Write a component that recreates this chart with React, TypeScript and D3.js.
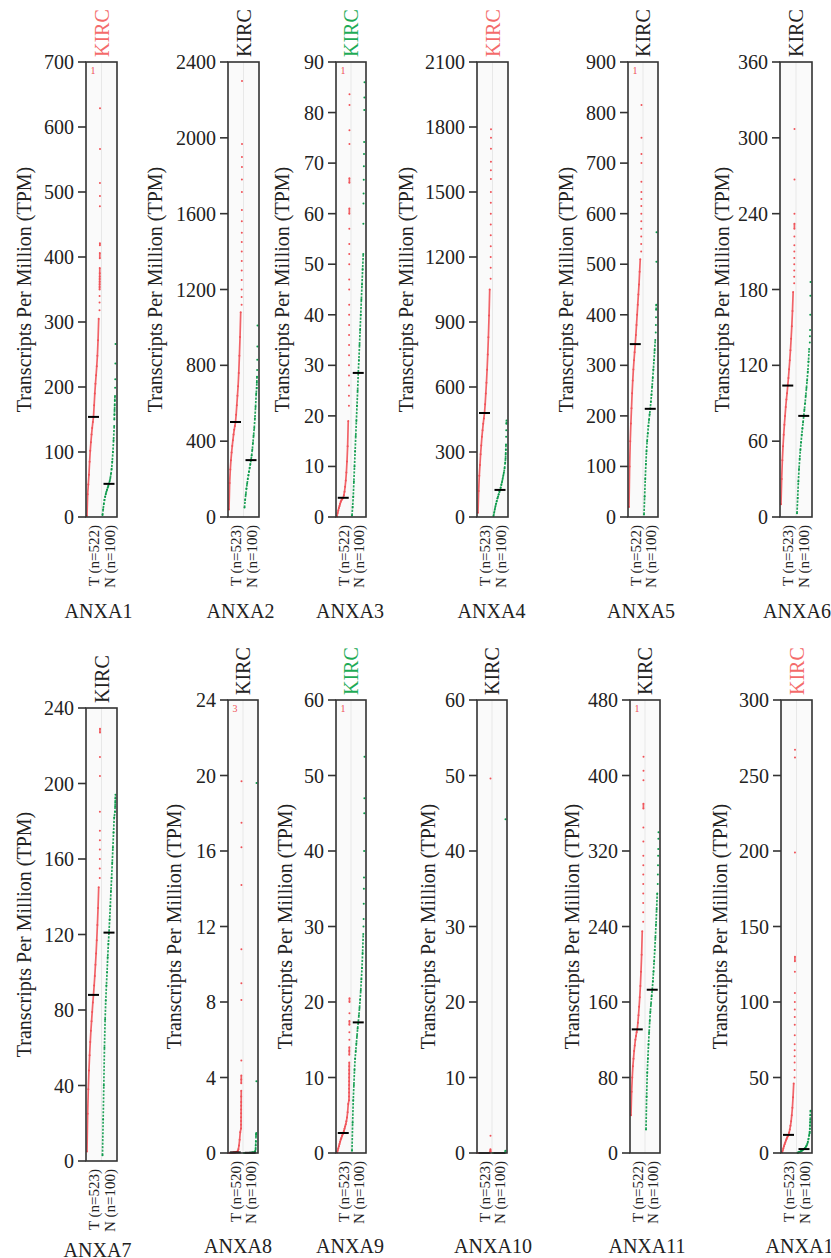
import React from "react";
import * as d3 from "d3";

// gene panels, left to right, top to bottom
const genes = ["ANXA1", "ANXA2", "ANXA3", "ANXA4", "ANXA5", "ANXA6", "ANXA7", "ANXA8", "ANXA9", "ANXA10", "ANXA11", "ANXA13"];
const yMax = [700, 2400, 90, 2100, 900, 360, 240, 24, 60, 60, 480, 300];
const tickStep = [100, 400, 10, 300, 100, 60, 40, 4, 10, 10, 80, 50];
const nTumor = [522, 523, 522, 523, 522, 523, 523, 520, 523, 523, 522, 523];
const nNormal = [100, 100, 100, 100, 100, 100, 100, 100, 100, 100, 100, 100];
// significance colour of the KIRC header
const kircSig = ["up", "none", "down", "up", "none", "none", "none", "none", "down", "none", "none", "up"];
const tumorMedian = [154, 501, 3.8, 480, 342, 104, 88, 0.03, 2.65, 0, 131, 12];
const normalMedian = [51, 300, 28.5, 125, 214, 80, 121, 0.01, 17.3, 0, 173, 2.6];
// points beyond the axis maximum
const tumorOver = [1, 0, 1, 0, 1, 0, 0, 3, 1, 0, 1, 0];

// sorted TPM at percentiles 0, 5, ..., 90
const tumorBody = [
  [2, 35, 50, 65, 85, 102, 115, 127, 137, 146, 154, 172, 190, 205, 218, 232, 248, 272, 305],
  [40, 180, 250, 300, 340, 375, 405, 435, 460, 480, 500, 540, 590, 640, 690, 760, 850, 950, 1080],
  [0.1, 0.8, 1.3, 1.8, 2.2, 2.6, 3.0, 3.3, 3.5, 3.65, 3.8, 4.3, 5.0, 6.0, 7.2, 8.8, 11, 14, 19],
  [20, 120, 190, 240, 290, 330, 370, 400, 430, 455, 480, 520, 570, 620, 680, 750, 830, 930, 1050],
  [20, 100, 150, 185, 215, 245, 270, 292, 310, 326, 342, 360, 380, 400, 420, 440, 460, 485, 510],
  [10, 30, 45, 56, 65, 73, 80, 87, 93, 98, 104, 110, 117, 124, 132, 141, 151, 163, 178],
  [5, 25, 38, 48, 56, 63, 69, 74, 79, 84, 88, 93, 98, 104, 110, 117, 125, 134, 145],
  [0, 0, 0, 0, 0.01, 0.01, 0.01, 0.02, 0.02, 0.03, 0.03, 0.04, 0.05, 0.06, 0.1, 0.2, 0.4, 0.7, 1.1],
  [0.05, 0.3, 0.6, 0.9, 1.2, 1.5, 1.8, 2.0, 2.25, 2.45, 2.65, 2.9, 3.2, 3.5, 3.8, 4.2, 4.7, 5.4, 6.5],
  [0, 0, 0, 0, 0, 0, 0, 0, 0, 0, 0, 0, 0, 0, 0, 0, 0.01, 0.01, 0.02],
  [40, 65, 80, 92, 100, 108, 114, 120, 124, 128, 131, 138, 146, 155, 165, 177, 192, 210, 235],
  [0.5, 1.5, 3, 4.5, 5.8, 7, 8.2, 9.3, 10.3, 11.2, 12, 13.5, 15.5, 18, 21, 25, 30, 37, 46],
];
// highest values, ascending (last ranks)
const tumorTail = [
  [318, 330, 340, 350, 354, 358, 362, 366, 370, 375, 383, 398, 406, 418, 421, 478, 494, 514, 566, 629],
  [1120, 1160, 1200, 1250, 1300, 1350, 1400, 1450, 1500, 1560, 1620, 1714, 1780, 1846, 1899, 1967, 2300],
  [22, 24, 26, 28, 30, 32, 34, 36, 38, 40, 42, 45, 47, 50, 52, 54, 57, 60, 61, 66.1, 67, 73.8, 76.5, 81.5, 83.6],
  [1100, 1150, 1200, 1250, 1300, 1350, 1400, 1450, 1500, 1560, 1600, 1640, 1700, 1750, 1790],
  [525, 540, 555, 570, 585, 600, 615, 629, 643, 663, 700, 718, 750, 815],
  [185, 190, 195, 200, 205, 210, 215, 222, 228, 232, 240, 267, 307],
  [150, 155, 160, 165, 170, 175, 185, 204, 214, 227, 229],
  [1.3, 1.5, 1.7, 1.9, 2.1, 2.3, 2.5, 2.7, 3.0, 3.3, 3.7, 3.9, 4.1, 4.9, 8.1, 9.0, 10.8, 14.2, 16.2, 17.5, 19.7],
  [7, 7.5, 8, 8.5, 9, 9.5, 10, 10.5, 11, 11.5, 12, 13, 13.5, 14, 15, 16, 17, 17.5, 18.5, 20, 20.5],
  [0.05, 0.1, 0.2, 0.3, 0.5, 2.3, 49.6],
  [245, 255, 265, 275, 285, 295, 305, 315, 330, 345, 365, 370, 395, 405, 420],
  [50, 55, 60, 64, 68, 72, 78, 85, 90, 95, 100, 106, 120, 127, 130, 199, 262, 267],
];
const normalBody = [
  [3, 12, 20, 26, 31, 35, 39, 42, 45, 48, 51, 55, 60, 66, 74, 85, 100, 118, 140],
  [50, 90, 120, 150, 175, 200, 220, 240, 260, 280, 300, 325, 355, 390, 430, 470, 520, 580, 650],
  [0.3, 2, 4, 7, 10, 13, 16, 19, 22, 25, 28.5, 31, 34, 37, 40, 43, 46, 49, 52],
  [5, 20, 35, 50, 62, 74, 85, 95, 105, 115, 125, 135, 148, 160, 175, 190, 205, 225, 250],
  [5, 40, 75, 105, 130, 150, 165, 180, 192, 203, 214, 228, 242, 258, 275, 292, 310, 330, 350],
  [3, 15, 28, 38, 46, 53, 59, 65, 70, 75, 80, 85, 90, 96, 102, 108, 115, 123, 133],
  [3, 22, 40, 60, 75, 85, 93, 100, 108, 115, 121, 128, 135, 143, 150, 158, 166, 174, 182],
  [0, 0, 0, 0, 0, 0, 0, 0, 0, 0.01, 0.01, 0.01, 0.01, 0.02, 0.02, 0.02, 0.03, 0.05, 0.1],
  [0.3, 4, 7, 9, 11, 12.5, 13.5, 14.5, 15.5, 16.5, 17.3, 18.2, 19.2, 20.3, 21.5, 23, 24.5, 26.5, 29],
  [0, 0, 0, 0, 0, 0, 0, 0, 0, 0, 0, 0, 0, 0, 0, 0, 0, 0, 0.01],
  [25, 60, 85, 100, 115, 128, 140, 150, 158, 166, 173, 182, 192, 203, 215, 228, 242, 258, 275],
  [0.1, 0.3, 0.5, 0.7, 0.9, 1.1, 1.4, 1.7, 2.0, 2.3, 2.6, 3.0, 3.5, 4.1, 5, 6, 7.5, 9.5, 12],
];
const normalTail = [
  [150, 158, 165, 172, 180, 186, 199, 212, 236, 266],
  [680, 710, 740, 775, 830, 900, 1010],
  [58, 62, 64, 66.7, 69.4, 71.8, 74.2, 80.5, 83, 86],
  [270, 290, 310, 335, 370, 400, 430, 445],
  [365, 380, 395, 410, 420, 505, 563],
  [138, 143, 148, 160, 175, 186],
  [185, 188, 190, 192, 194],
  [0.2, 0.4, 0.6, 0.9, 1.0, 1.06, 3.8, 19.6],
  [30, 31, 33, 35, 36.5, 40, 45, 47, 52.5],
  [0.05, 0.1, 0.3, 44.2],
  [285, 295, 305, 315, 322, 333, 340],
  [13, 14, 16, 18, 20, 22, 25, 28],
];

// layout of each panel (pixels)
const axisX = [86, 228, 336, 477, 628, 780, 86, 228, 336, 477, 630, 781];
const plotW = [31, 31, 30, 31, 30, 32, 31, 30, 30, 30, 30, 31];
const plotTop = [62, 62, 62, 62, 62, 62, 708, 700, 700, 700, 700, 700];
const plotBottom = [517, 517, 517, 517, 517, 517, 1161, 1153, 1153, 1153, 1153, 1153];
const yLabelX = [24, 155, 282, 406, 566, 722, 24, 174, 285, 428, 572, 720];
const geneDx = [-3, -3, -1, -1, -2, 1, -4, -5, -1, 1, 2, 8];
const geneY = [618, 618, 618, 618, 618, 618, 1257, 1253, 1253, 1253, 1253, 1253];

const RED = "#f05258";
const GREEN = "#0c9a4a";
const FONT = "'Liberation Serif', 'Times New Roman', serif";
const sigColor = { up: "#f46b6b", down: "#1eab56", none: "#222" };

type Pt = { r: number; v: number; body: boolean };

const Series = ({ body, tail, n, x0, x1, y, color, median, dash }) => {
  const x = d3.scaleLinear().domain([0, n - 1]).range([x0, x1]);
  const pts: Pt[] = [
    ...body.map((v, i) => ({ r: i * 0.05 * (n - 1), v, body: true })),
    ...tail.map((v, j) => ({ r: n - tail.length + j, v, body: false })),
  ];
  // join neighbouring points into a line where they are dense
  const segs: Pt[][] = [];
  let cur: Pt[] = [pts[0]];
  for (let i = 1; i < pts.length; i++) {
    const a = pts[i - 1];
    const b = pts[i];
    const gap = Math.abs(y(b.v) - y(a.v));
    if ((a.body && b.body) || gap < 6) cur.push(b);
    else {
      segs.push(cur);
      cur = [b];
    }
  }
  segs.push(cur);
  const line = d3
    .line<Pt>()
    .x((d) => x(d.r))
    .y((d) => y(Math.min(d.v, y.domain()[1])));
  const mx = x(0.5 * (n - 1));
  return (
    <g>
      {segs
        .filter((s) => s.length > 1)
        .map((s, i) => (
          <path
            key={i}
            d={line(s)}
            fill="none"
            stroke={color}
            strokeWidth={1.7}
            strokeOpacity={0.9}
            strokeDasharray={dash ? "2.2 1.3" : undefined}
          />
        ))}
      {pts
        .filter((p) => p.v <= y.domain()[1])
        .map((p, i) => (
          <circle key={"c" + i} cx={x(p.r)} cy={y(p.v)} r={1} fill={color} />
        ))}
      <line x1={mx - 5.5} x2={mx + 5.5} y1={y(median)} y2={y(median)} stroke="#000" strokeWidth={2} />
    </g>
  );
};

const Panel = ({ i }) => {
  const left = axisX[i];
  const right = left + plotW[i];
  const mid = (left + right) / 2;
  const top = plotTop[i];
  const bottom = plotBottom[i];
  const y = d3.scaleLinear().domain([0, yMax[i]]).range([bottom, top]);
  const ticks = d3.range(0, yMax[i] + tickStep[i] / 2, tickStep[i]);
  const fmt = (t: number) => String(Math.round(t * 100) / 100);
  return (
    <g fontFamily={FONT}>
      <rect x={left} y={top} width={right - left} height={bottom - top} fill="#fafafa" />
      <line x1={mid} x2={mid} y1={top} y2={bottom} stroke="#e8e8e8" strokeWidth={1} />
      <Series body={tumorBody[i]} tail={tumorTail[i]} n={nTumor[i]} x0={left + 1} x1={mid - 1.5} y={y} color={RED} median={tumorMedian[i]} dash={false} />
      <Series body={normalBody[i]} tail={normalTail[i]} n={nNormal[i]} x0={mid + 1} x1={right - 1.5} y={y} color={GREEN} median={normalMedian[i]} dash={true} />
      <rect x={left} y={top} width={right - left} height={bottom - top} fill="none" stroke="#333" strokeWidth={1.6} />
      {tumorOver[i] > 0 && (
        <text x={left + 7} y={top + 12} fontSize={10} fill={RED} textAnchor="middle">
          {tumorOver[i]}
        </text>
      )}
      {ticks.map((t) => (
        <g key={t}>
          <line x1={left - 8} x2={left} y1={y(t)} y2={y(t)} stroke="#333" strokeWidth={1.6} />
          <text x={left - 12} y={y(t)} dy="0.35em" fontSize={20} textAnchor="end" fill="#222">
            {fmt(t)}
          </text>
        </g>
      ))}
      <text
        transform={`translate(${yLabelX[i]},${(top + bottom) / 2}) rotate(-90)`}
        textAnchor="middle"
        dy="0.35em"
        fontSize={20}
        fill="#222"
      >
        Transcripts Per Million (TPM)
      </text>
      <text
        transform={`translate(${mid},${top - 5}) rotate(-90)`}
        dy="0.35em"
        fontSize={20}
        fill={sigColor[kircSig[i]]}
      >
        KIRC
      </text>
      <text transform={`translate(${(left + mid) / 2},${bottom + 8}) rotate(-90)`} textAnchor="end" dy="0.35em" fontSize={15} fill="#222">
        {`T (n=${nTumor[i]})`}
      </text>
      <text transform={`translate(${(mid + right) / 2},${bottom + 8}) rotate(-90)`} textAnchor="end" dy="0.35em" fontSize={15} fill="#222">
        {`N (n=${nNormal[i]})`}
      </text>
      <text x={mid + geneDx[i]} y={geneY[i]} textAnchor="middle" fontSize={20} fill="#222">
        {genes[i]}
      </text>
    </g>
  );
};

export default function App() {
  return (
    <svg width={831} height={1258} style={{ position: "absolute", left: 0, top: 0, background: "#fff" }}>
      {genes.map((g, i) => (
        <Panel key={g} i={i} />
      ))}
    </svg>
  );
}
